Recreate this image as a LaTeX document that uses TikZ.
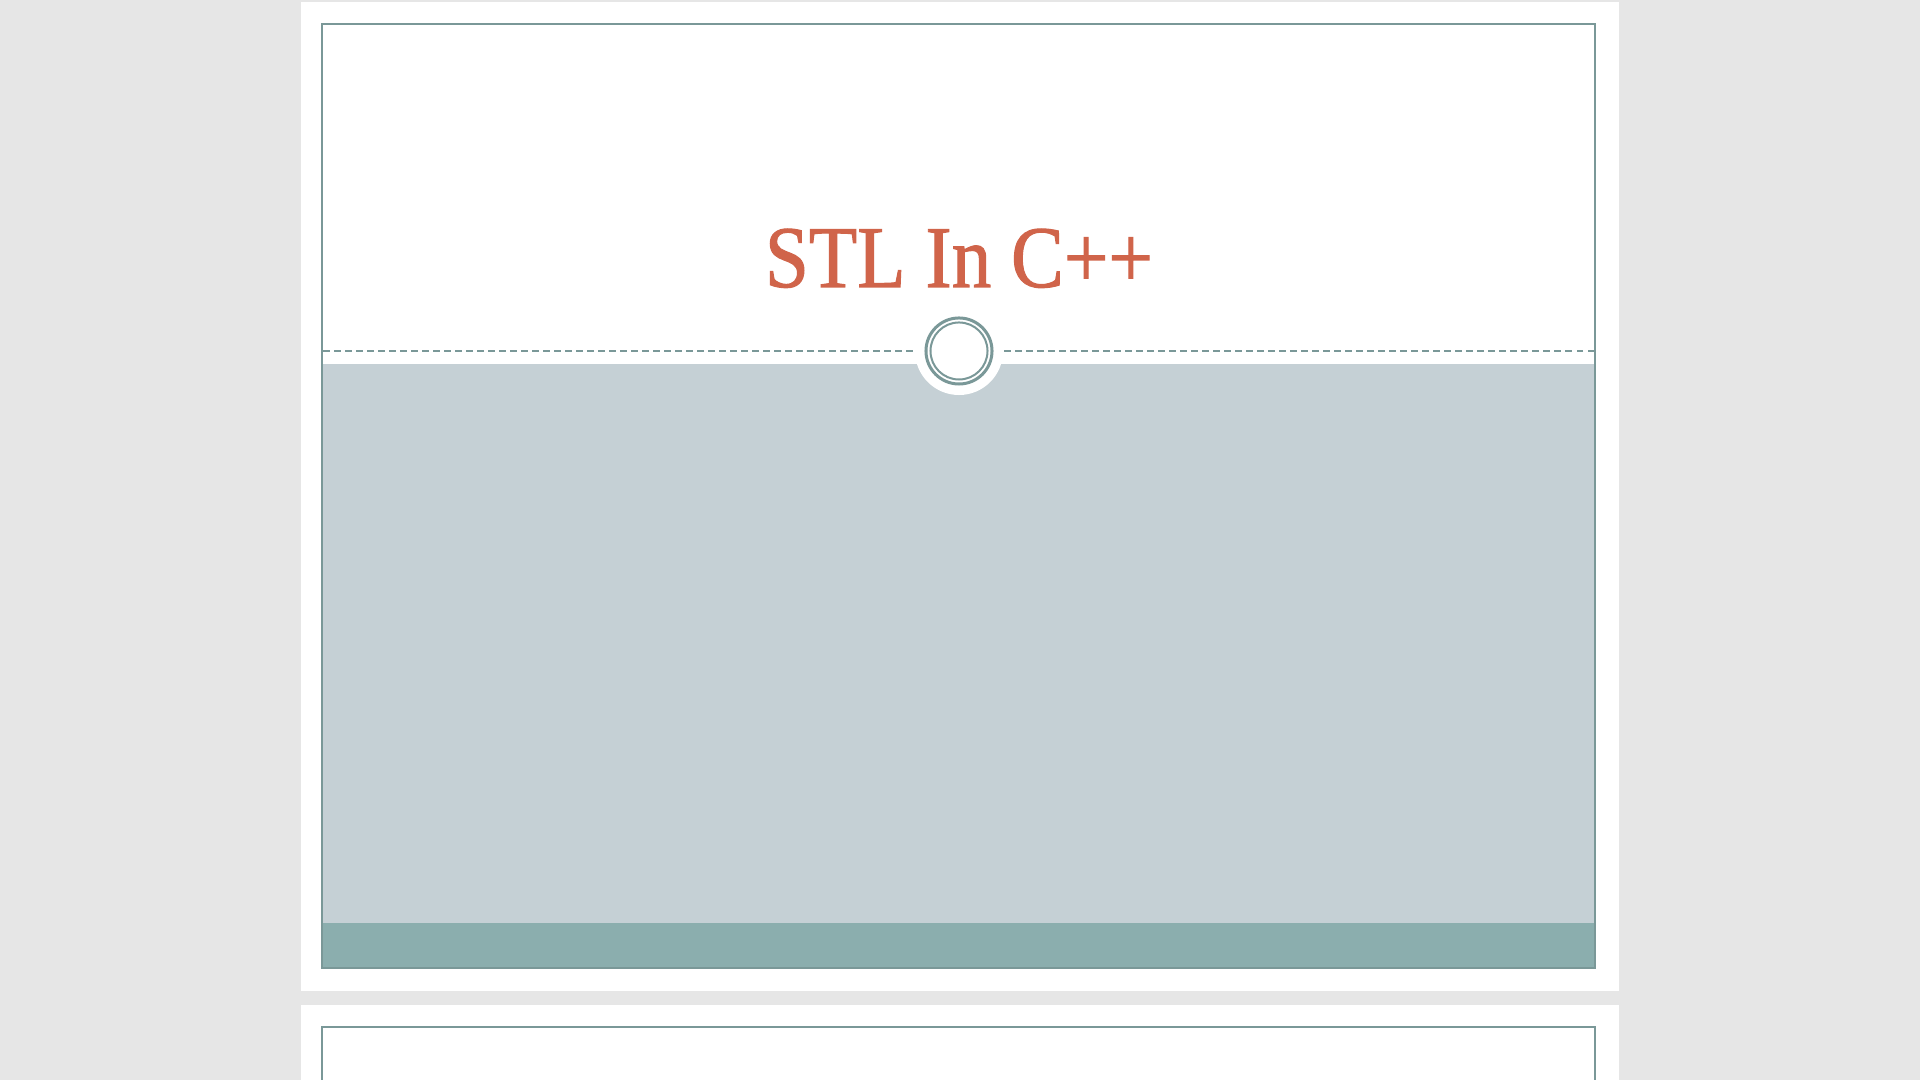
\documentclass[tikz,border=0pt]{standalone}
\usepackage{fontspec}
\setmainfont{Liberation Serif}
\newfontfamily\titlefont[FakeBold=1.2]{Liberation Serif}
\definecolor{deskgray}{HTML}{E6E6E6}
\definecolor{framegray}{HTML}{7A9898}
\definecolor{bodygray}{HTML}{C5D0D5}
\definecolor{bandteal}{HTML}{8BAEAE}
\definecolor{titlered}{HTML}{D0644A}
\tikzset{
    slidepage/.style={fill=white, draw=none},
    slideframe/.style={draw=framegray, line width=0.02cm, fill=white},
    divider/.style={draw=framegray, line width=0.02cm, dash pattern=on 0.065cm off 0.045cm},
}
\begin{document}
\begin{tikzpicture}[x=0.01cm, y=-0.01cm]

        \useasboundingbox [fill=deskgray] (0,0) rectangle (1920,1080);

        % first slide
        \fill [slidepage] (301,2) rectangle (1619,991);
        \path [slideframe] (322,24) rectangle (1595,968);
        \fill [bodygray] (323,364) rectangle (1594,923);
        \fill [bandteal] (323,923) rectangle (1594,967);
        \draw [framegray, line width=0.02cm] (322,24) rectangle (1595,968);

        \node (cutout) [circle, fill=white, minimum size=0.88cm, inner sep=0pt] at (959,351) {};
        \coordinate (dividerleft) at (323,351);
        \coordinate (dividerright) at (1594,351);
        \draw [divider] (dividerleft) -- (cutout.west);
        \draw [divider] (dividerright) -- (cutout.east);

        \node (ringouter) [circle, draw=framegray, line width=0.03cm, fill=white, minimum size=0.66cm, inner sep=0pt] at (959,351) {};
        \node (ringinner) [circle, draw=framegray, line width=0.02cm, minimum size=0.57cm, inner sep=0pt] at (ringouter.center) {};

        \node (title) [anchor=base, text=titlered, xscale=0.9, inner sep=0pt] at (959,287) {\titlefont\fontsize{25pt}{30pt}\selectfont STL In C++};

        % second slide
        \fill [slidepage] (301,1005) rectangle (1619,1080);
        \draw [slideframe] (322,1081) -- (322,1027) -- (1595,1027) -- (1595,1081);

\end{tikzpicture}
\end{document}
